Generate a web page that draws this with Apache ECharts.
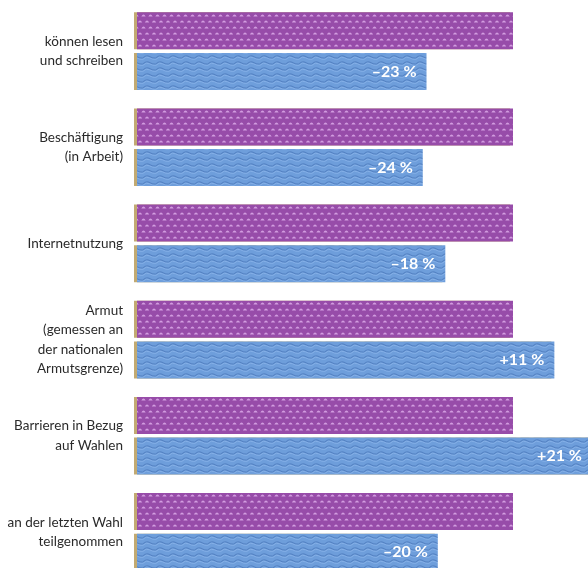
<!DOCTYPE html>
<html>
<head>
<meta charset="utf-8">
<script src="https://cdn.jsdelivr.net/npm/echarts@6/dist/echarts.min.js"></script>
<style>
html,body{margin:0;padding:0;background:#fff;}
#chart{width:588px;height:568px;}
</style>
</head>
<body>
<div id="chart"></div>
<script>
// ---- data ----
var categories = [
  'können lesen\nund schreiben',
  'Beschäftigung\n(in Arbeit)',
  'Internetnutzung',
  'Armut\n(gemessen an\nder nationalen\nArmutsgrenze)',
  'Barrieren in Bezug\nauf Wahlen',
  'an der letzten Wahl\nteilgenommen'
];
var reference = [100, 100, 100, 100, 100, 100];
var comparison = [77, 76, 82, 111, 121, 80];
var comparisonLabels = ['–23 %', '–24 %', '–18 %', '+11 %', '+21 %', '–20 %'];

// ---- textures ----
function purplePattern() {
  var c = document.createElement('canvas');
  c.width = 14; c.height = 12;
  var g = c.getContext('2d');
  g.fillStyle = '#974ca9';
  g.fillRect(0, 0, 14, 12);
  g.fillStyle = '#d29ce0';
  function dot(x, y) {
    g.beginPath();
    g.moveTo(x - 2.2, y + 1.4);
    g.quadraticCurveTo(x, y - 2.6, x + 2.2, y + 1.4);
    g.closePath();
    g.fill();
  }
  dot(3.5, 3); dot(10.5, 3);
  dot(0, 9); dot(7, 9); dot(14, 9);
  return c;
}
function bluePattern() {
  var c = document.createElement('canvas');
  c.width = 13; c.height = 6;
  var g = c.getContext('2d');
  g.fillStyle = '#6e9edb';
  g.fillRect(0, 0, 13, 6);
  g.strokeStyle = '#5583c3';
  g.lineWidth = 1.1;
  g.beginPath();
  g.moveTo(0, 4);
  g.quadraticCurveTo(3.25, 0.5, 6.5, 2.5);
  g.quadraticCurveTo(9.75, 4.5, 13, 4);
  g.stroke();
  g.strokeStyle = '#8ab4ea';
  g.lineWidth = 0.8;
  g.beginPath();
  g.moveTo(0, 5.3);
  g.quadraticCurveTo(3.25, 1.8, 6.5, 3.8);
  g.quadraticCurveTo(9.75, 5.8, 13, 5.3);
  g.stroke();
  return c;
}

var chart = echarts.init(document.getElementById('chart'), null, {renderer: 'canvas'});
var common = {
  borderWidth: 0,
  shadowColor: '#c2aa72',
  shadowBlur: 0,
  shadowOffsetX: -3,
  shadowOffsetY: 0
};
chart.setOption({
  animation: false,
  backgroundColor: '#ffffff',
  grid: {left: 137, top: 3, width: 470, height: 577, containLabel: false, outerBoundsMode: 'none'},
  xAxis: {
    type: 'value', min: 0, max: 125,
    show: false
  },
  yAxis: {
    type: 'category',
    data: categories,
    inverse: true,
    axisLine: {show: false},
    axisTick: {show: false},
    axisLabel: {
      margin: 14,
      align: 'right',
      fontFamily: 'Lato',
      fontSize: 13.5,
      lineHeight: 19.5,
      color: '#2a2a2a'
    }
  },
  series: [
    {
      type: 'bar',
      data: reference,
      barWidth: 37,
      barGap: '10%',
      itemStyle: Object.assign({color: {image: purplePattern(), repeat: 'repeat'}}, common)
    },
    {
      type: 'bar',
      data: comparison,
      barWidth: 37,
      barGap: '10%',
      itemStyle: Object.assign({color: {image: bluePattern(), repeat: 'repeat'}}, common),
      label: {
        show: true,
        position: 'insideRight',
        distance: 10,
        color: '#ffffff',
        fontFamily: 'Lato',
        fontWeight: 'bold',
        fontSize: 16,
        formatter: function (p) { return comparisonLabels[p.dataIndex]; }
      }
    }
  ]
});
</script>
</body>
</html>
